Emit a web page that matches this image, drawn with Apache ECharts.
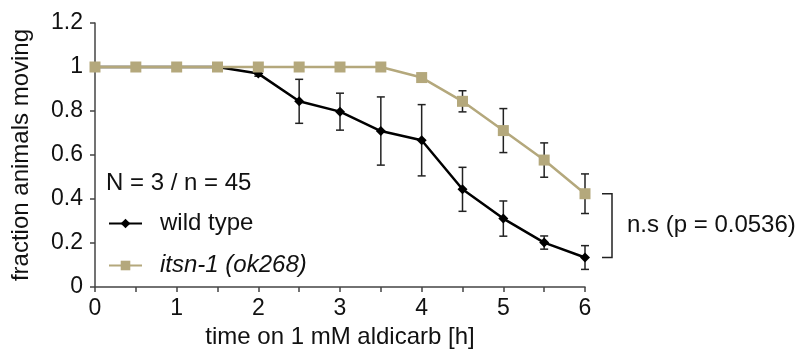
<!DOCTYPE html>
<html><head><meta charset="utf-8">
<script src="https://cdn.jsdelivr.net/npm/echarts@6/dist/echarts.min.js"></script>
<style>html,body{margin:0;padding:0;background:#fff}#c{width:797px;height:352px}</style>
</head><body><div id="c"></div>
<script>
const time = [0,0.5,1,1.5,2,2.5,3,3.5,4,4.5,5,5.5,6];
const wildType = [1,1,1,1,0.97,0.844,0.797,0.709,0.667,0.444,0.311,0.202,0.134];
const wildTypeErr = [0,0,0,0,0.012,0.1,0.084,0.155,0.162,0.1,0.08,0.03,0.054];
const itsn = [1,1,1,1,1,1,1,1,0.952,0.844,0.711,0.577,0.424];
const itsnErr = [0,0,0,0,0,0,0,0,0.005,0.048,0.1,0.078,0.09];
const seriesNames = ['wild type','itsn-1 (ok268)'];
const annotation = 'n.s (p = 0.0536)';
const sampleText = 'N = 3 / n = 45';
const xTitle = 'time on 1 mM aldicarb [h]';
const yTitle = 'fraction animals moving';

const FONT = '"Liberation Sans", Arial, sans-serif';
const TAN = '#b4a87c';
const AX = '#444';

function errData(vals, errs){
  const out = [];
  vals.forEach((v,i)=>{ if(errs[i]>0) out.push([time[i], v-errs[i], v+errs[i]]); });
  return out;
}
function errRender(params, api){
  const x = api.value(0);
  const lo = api.coord([x, api.value(1)]);
  const hi = api.coord([x, api.value(2)]);
  const w = 4;
  const st = {stroke:'#222', lineWidth:1.5};
  return {type:'group', children:[
    {type:'line', shape:{x1:lo[0],y1:lo[1],x2:hi[0],y2:hi[1]}, style:st},
    {type:'line', shape:{x1:lo[0]-w,y1:lo[1],x2:lo[0]+w,y2:lo[1]}, style:st},
    {type:'line', shape:{x1:hi[0]-w,y1:hi[1],x2:hi[0]+w,y2:hi[1]}, style:st}
  ]};
}
const last = time.length-1;
const chart = echarts.init(document.getElementById('c'), null, {renderer:'canvas'});
chart.setOption({
  animation:false,
  backgroundColor:'#fff',
  textStyle:{fontFamily:FONT},
  grid:{left:95, right:212, top:23, bottom:65, containLabel:false, outerBoundsMode:'none'},
  xAxis:{type:'value', min:0, max:6, interval:0.5,
    axisLine:{lineStyle:{color:AX, width:1.5}},
    axisTick:{show:true, length:5, lineStyle:{color:AX, width:1.5}},
    axisLabel:{color:'#111', fontSize:23, fontFamily:FONT, margin:10,
      formatter:v=> Number.isInteger(v) ? String(v) : ''},
    splitLine:{show:false},
    name:xTitle, nameLocation:'middle', nameGap:37,
    nameTextStyle:{color:'#111', fontSize:24, fontFamily:FONT}
  },
  yAxis:{type:'value', min:0, max:1.2, interval:0.2,
    axisLine:{show:true, lineStyle:{color:AX, width:1.5}},
    axisTick:{show:true, length:5, lineStyle:{color:AX, width:1.5}},
    axisLabel:{color:'#111', fontSize:23, fontFamily:FONT, margin:12},
    splitLine:{show:false},
    name:yTitle, nameLocation:'middle', nameGap:62,
    nameTextStyle:{color:'#111', fontSize:24, fontFamily:FONT}
  },
  legend:{orient:'vertical', left:103, top:206, itemWidth:33, itemHeight:12, itemGap:17,
    data:seriesNames,
    textStyle:{color:'#111', fontSize:24, fontFamily:FONT, lineHeight:25, padding:[0,0,0,13],
      rich:{i:{fontStyle:'italic', fontSize:24, fontFamily:FONT, color:'#111'}}},
    formatter:n=> n===seriesNames[1] ? '{i|'+n+'}' : n
  },
  graphic:[{type:'text', left:106, top:171,
    style:{text:sampleText, font:'24px '+FONT, fill:'#111'}}],
  series:[
    {type:'custom', name:'wtErr', renderItem:errRender, data:errData(wildType, wildTypeErr), z:1, silent:true},
    {type:'custom', name:'itsnErr', renderItem:errRender, data:errData(itsn, itsnErr), z:1, silent:true},
    {type:'line', name:seriesNames[0], data:time.map((t,i)=>[t,wildType[i]]),
      symbol:'diamond', symbolSize:10, showAllSymbol:true,
      lineStyle:{color:'#000', width:2.5}, itemStyle:{color:'#000'}, z:3},
    {type:'line', name:seriesNames[1], data:time.map((t,i)=>[t,itsn[i]]),
      symbol:'rect', symbolSize:11, showAllSymbol:true,
      lineStyle:{color:TAN, width:2.5}, itemStyle:{color:TAN}, z:4},
    {type:'custom', name:'bracket', silent:true, z:5,
      data:[[time[last], itsn[last], wildType[last]]],
      renderItem:(params, api)=>{
        const a = api.coord([api.value(0), api.value(1)]);
        const b = api.coord([api.value(0), api.value(2)]);
        const x1 = a[0]+17, x2 = a[0]+27;
        const st = {stroke:'#222', lineWidth:1.5, fill:null};
        return {type:'group', children:[
          {type:'polyline', shape:{points:[[x1,a[1]],[x2,a[1]],[x2,b[1]],[x1,b[1]]]}, style:st},
          {type:'text', x:x2+15, y:(a[1]+b[1])/2,
            style:{text:annotation, font:'24px '+FONT, fill:'#111', textVerticalAlign:'middle', textAlign:'left'}}
        ]};
      }}
  ]
});
</script></body></html>
